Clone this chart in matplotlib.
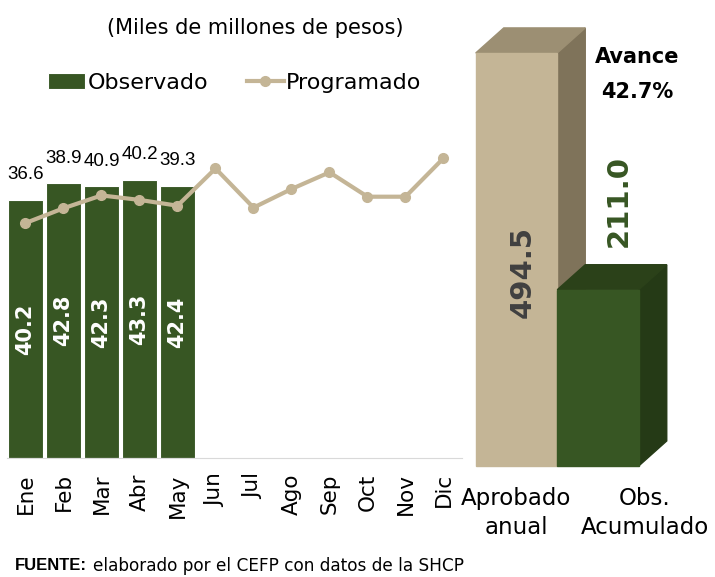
import matplotlib.pyplot as plt
from matplotlib.patches import Polygon

# datos
meses = ['Ene', 'Feb', 'Mar', 'Abr', 'May', 'Jun', 'Jul', 'Ago', 'Sep', 'Oct', 'Nov', 'Dic']
observado = [40.2, 42.8, 42.3, 43.3, 42.4]
programado = [36.6, 38.9, 40.9, 40.2, 39.3, 45.1, 39.0, 41.9, 44.5, 40.7, 40.7, 46.7]
anual_labels = ['Aprobado\nanual', 'Obs.\nAcumulado']
anual_vals = [494.5, 211.0]

verde = '#375623'
tan = '#C4B596'
angosta = ['Liberation Sans Narrow', 'Liberation Sans']

plt.rcParams['font.family'] = ['DejaVu Sans']
fig = plt.figure(figsize=(7.15, 5.77), dpi=100)

# grafica mensual
ax = fig.add_axes([6.5 / 715, 119 / 577, 456 / 715, 321 / 577])
barras = ax.bar(range(len(observado)), observado, width=0.92, color=verde,
                edgecolor='white', linewidth=0.8, label='Observado', zorder=2)
linea, = ax.plot(range(len(meses)), programado, color=tan, lw=3, marker='o', ms=7,
                 label='Programado', zorder=3)

for i, o in enumerate(observado):
    ax.text(i, o / 2, f'{o:.1f}', rotation=90, ha='center', va='center',
            color='white', fontweight='bold', fontsize=15, zorder=4)
    ax.annotate(f'{programado[i]:.1f}', (i, o), xytext=(0, 12),
                textcoords='offset points', ha='center', va='bottom',
                family=angosta, fontsize=13.5)

ax.set_xlim(-0.5, 11.5)
ax.set_ylim(0, 50)
ax.set_yticks([])
ax.set_xticks(range(len(meses)))
ax.set_xticklabels(meses, rotation=90, fontsize=15.5)
ax.tick_params(axis='x', length=0, pad=11)
for s in ['top', 'left', 'right']:
    ax.spines[s].set_visible(False)
ax.spines['bottom'].set_color('#D9D9D9')

fig.legend([barras, linea], ['Observado', 'Programado'], loc='center left',
           bbox_to_anchor=(48 / 715, 1 - 83 / 577), ncol=2,
           frameon=False, fontsize=16, borderpad=0, borderaxespad=0,
           handlelength=1.65, handleheight=0.75, handletextpad=0.12, columnspacing=1.75)
fig.text(255 / 715, 1 - 28 / 577, '(Miles de millones de pesos)', ha='center',
         va='center', fontsize=15)

# barras anuales 3D
ax2 = fig.add_axes([460 / 715, 111 / 577, 255 / 715, 446 / 577])
ax2.set_xlim(-0.693, 2.436)
ax2.set_ylim(0, 534)
ax2.axis('off')
dx, dy = 0.344, 30
caras = [(tan, '#9C8F73', '#7F735A'), (verde, '#2B4119', '#253A16')]
for i, (v, (frente, arriba, lado)) in enumerate(zip(anual_vals, caras)):
    l, r = i - 0.5, i + 0.5
    ax2.add_patch(Polygon([(r, 0), (r + dx, dy), (r + dx, v + dy), (r, v)],
                          color=lado, clip_on=False))
    ax2.add_patch(Polygon([(l, v), (r, v), (r + dx, v + dy), (l + dx, v + dy)],
                          color=arriba, clip_on=False))
    ax2.add_patch(Polygon([(l, 0), (r, 0), (r, v), (l, v)], color=frente,
                          clip_on=False))

ax2.text(0.08, anual_vals[0] * 0.47, f'{anual_vals[0]:.1f}', rotation=90,
         ha='center', va='center', color='#404040', fontweight='bold', fontsize=21)
ax2.annotate(f'{anual_vals[1]:.1f}', (1 + 0.75 * dx, anual_vals[1] + dy),
             xytext=(0, 13), textcoords='offset points', rotation=90,
             ha='center', va='bottom', color=verde, fontweight='bold', fontsize=21)

avance = anual_vals[1] / anual_vals[0] * 100
fig.text(637 / 715, 1 - 57 / 577, 'Avance', ha='center', va='center',
         fontweight='bold', fontsize=15)
fig.text(637 / 715, 1 - 92 / 577, f'{avance:.1f}%', ha='center', va='center',
         fontweight='bold', fontsize=15)

for xpos, lab in zip([0, 1.577], anual_labels):
    ax2.annotate(lab, (xpos, 0), xytext=(0, -15), textcoords='offset points',
                 ha='center', va='top', fontsize=16.5, linespacing=1.35,
                 annotation_clip=False)

t1 = fig.text(15 / 715, 1 - 566 / 577, 'FUENTE:', fontweight='bold',
              fontsize=12, va='center', family=angosta)
ax.annotate('elaborado por el CEFP con datos de la SHCP', xy=(1, 0.5),
            xycoords=t1, xytext=(4, 0), textcoords='offset points',
            va='center', fontsize=12.2, annotation_clip=False)

fig.savefig('out.png', dpi=100)
